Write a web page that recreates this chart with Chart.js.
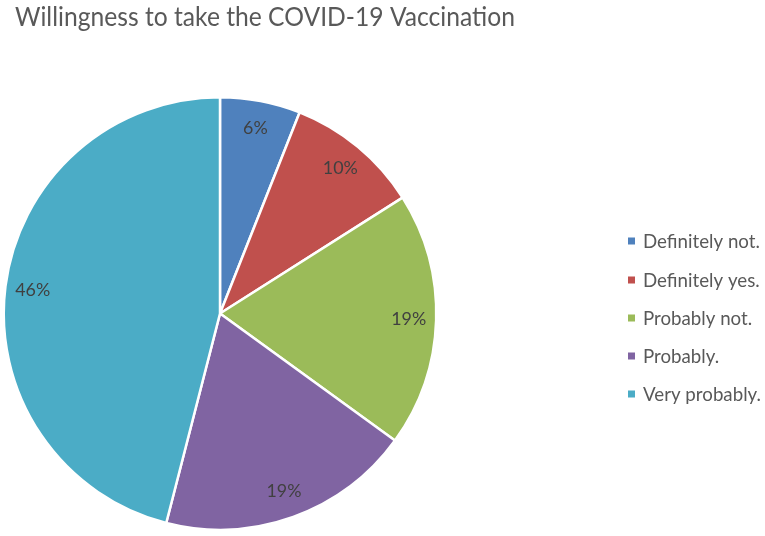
<!DOCTYPE html>
<html>
<head>
<meta charset="utf-8">
<script src="https://cdn.jsdelivr.net/npm/chart.js@4.4.0/dist/chart.umd.min.js"></script>
<style>
  html, body { margin: 0; padding: 0; background: #ffffff; }
  #wrap { width: 765px; height: 536px; position: relative; }
</style>
</head>
<body>
<div id="wrap"><canvas id="c" width="765" height="536"></canvas></div>
<script>
const titleText = "Willingness to take the COVID-19 Vaccination";
const categories = ["Definitely not.", "Definitely yes.", "Probably not.", "Probably.", "Very probably."];
const values = [6, 10, 19, 19, 46];
const colors = ["#4F81BD", "#C0504D", "#9BBB59", "#8064A2", "#4BACC6"];

const FONT = "Lato, 'Open Sans', 'DejaVu Sans', sans-serif";

function measure(text, size) {
  const cv = document.createElement('canvas').getContext('2d');
  cv.font = size + "px " + FONT;
  return cv.measureText(text).width;
}
function fitSize(text, target, base) {
  return base * target / measure(text, base);
}

const titleSize = 27.5;
const titleScaleX = Math.min(1, 500 / measure(titleText, titleSize));
const legendSize = fitSize("Very probably.", 118, 16);
const labelSize = fitSize("19%", 35, 16);

const titlePlugin = {
  id: 'sheetTitle',
  afterDraw(chart) {
    const ctx = chart.ctx;
    ctx.save();
    ctx.font = titleSize + "px " + FONT;
    ctx.fillStyle = "#595959";
    ctx.textBaseline = "alphabetic";
    ctx.textAlign = "left";
    ctx.translate(15, 25.5);
    ctx.scale(titleScaleX, 1);
    ctx.fillText(titleText, 0, 0);
    ctx.restore();
  }
};

const legendPlugin = {
  id: 'sideLegend',
  afterDraw(chart) {
    const ctx = chart.ctx;
    const labels = chart.data.labels;
    const bg = chart.data.datasets[0].backgroundColor;
    const rows = [241, 280, 318, 356, 394];
    ctx.save();
    ctx.font = legendSize + "px " + FONT;
    ctx.textBaseline = "middle";
    ctx.textAlign = "left";
    labels.forEach((lab, i) => {
      const y = rows[i];
      ctx.fillStyle = bg[i];
      ctx.fillRect(628, y - 3.5, 7, 7);
      ctx.fillStyle = "#595959";
      ctx.fillText(lab, 643, y + 1);
    });
    ctx.restore();
  }
};

const labelPlugin = {
  id: 'sliceLabels',
  afterDatasetsDraw(chart) {
    const ctx = chart.ctx;
    const meta = chart.getDatasetMeta(0);
    const data = chart.data.datasets[0].data;
    const total = data.reduce((a, b) => a + b, 0);
    ctx.save();
    ctx.font = labelSize + "px " + FONT;
    ctx.fillStyle = "#404040";
    ctx.textAlign = "center";
    ctx.textBaseline = "middle";
    meta.data.forEach((arc, i) => {
      const p = arc.getProps(['x', 'y', 'startAngle', 'endAngle', 'outerRadius'], true);
      const mid = (p.startAngle + p.endAngle) / 2;
      const d = p.outerRadius * 0.873;
      const x = p.x + Math.cos(mid) * d;
      const y = p.y + Math.sin(mid) * d;
      ctx.fillText(Math.round(data[i] / total * 100) + "%", x, y);
    });
    ctx.restore();
  }
};

new Chart(document.getElementById('c'), {
  type: 'pie',
  data: {
    labels: categories,
    datasets: [{
      data: values,
      backgroundColor: colors,
      borderColor: "#ffffff",
      borderWidth: 2.5
    }]
  },
  options: {
    responsive: false,
    animation: false,
    layout: { padding: { left: 2, top: 96, right: 327, bottom: 5 } },
    plugins: {
      legend: { display: false },
      title: { display: false },
      tooltip: { enabled: false }
    }
  },
  plugins: [titlePlugin, legendPlugin, labelPlugin]
});
</script>
</body>
</html>
